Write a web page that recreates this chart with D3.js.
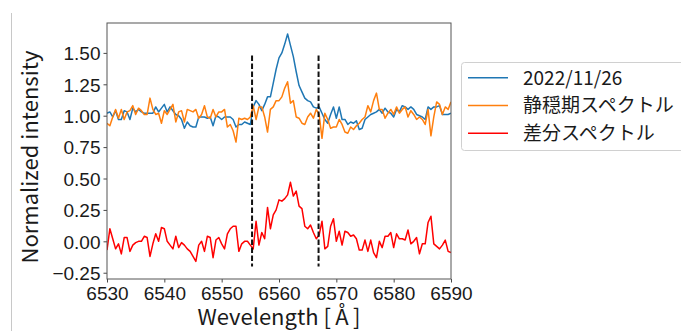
<!DOCTYPE html>
<html>
<head>
<meta charset="utf-8">
<script src="https://cdn.jsdelivr.net/npm/d3@7"></script>
<style>
  body { margin: 0; background: #fff; }
  svg { display: block; font-family: "Noto Sans CJK JP", "Noto Sans", sans-serif; }
</style>
</head>
<body>
<svg id="chart" width="681" height="331"></svg>
<script>
// wavelength grid [Å]
const wavelength = [
  6530, 6530.5, 6531, 6531.5, 6532, 6532.5, 6533, 6533.5, 6534, 6534.5,
  6535, 6535.5, 6536, 6536.5, 6537, 6537.5, 6538, 6538.5, 6539, 6539.5,
  6540, 6540.5, 6541, 6541.5, 6542, 6542.5, 6543, 6543.5, 6544, 6544.5,
  6545, 6545.5, 6546, 6546.5, 6547, 6547.5, 6548, 6548.5, 6549, 6549.5,
  6550, 6550.5, 6551, 6551.5, 6552, 6552.5, 6553, 6553.5, 6554, 6554.5,
  6555, 6555.5, 6556, 6556.5, 6557, 6557.5, 6558, 6558.5, 6559, 6559.5,
  6560, 6560.5, 6561, 6561.5, 6562, 6562.5, 6563, 6563.5, 6564, 6564.5,
  6565, 6565.5, 6566, 6566.5, 6567, 6567.5, 6568, 6568.5, 6569, 6569.5,
  6570, 6570.5, 6571, 6571.5, 6572, 6572.5, 6573, 6573.5, 6574, 6574.5,
  6575, 6575.5, 6576, 6576.5, 6577, 6577.5, 6578, 6578.5, 6579, 6579.5,
  6580, 6580.5, 6581, 6581.5, 6582, 6582.5, 6583, 6583.5, 6584, 6584.5,
  6585, 6585.5, 6586, 6586.5, 6587, 6587.5, 6588, 6588.5, 6589, 6589.5,
  6590
]

// 2022/11/26
const flareSpec = [
  1.02, 1.03, 0.99, 1.04, 0.97, 0.97, 1.04, 1.03, 0.97, 1.06,
  1.03, 1.05, 1.03, 1.02, 1.02, 1.02, 1.02, 1.07, 1.03, 1.06,
  1.09, 1.03, 1.07, 1.04, 1.01, 1.00, 0.97, 0.90, 0.95, 0.92,
  0.91, 0.91, 0.99, 0.99, 0.99, 0.98, 0.99, 0.92, 1.00, 0.99,
  0.97, 0.99, 0.99, 0.99, 0.97, 0.91, 0.93, 0.93, 0.95, 0.94,
  0.93, 1.07, 1.12, 1.09, 1.04, 1.09, 1.15, 1.15, 1.26, 1.37,
  1.46, 1.50, 1.57, 1.65, 1.56, 1.47, 1.35, 1.24, 1.19, 1.14,
  1.12, 1.11, 1.07, 1.06, 1.07, 1.02, 0.97, 0.94, 1.01, 1.07,
  0.98, 1.07, 0.97, 0.97, 0.93, 0.95, 0.94, 0.96, 0.89, 0.90,
  0.97, 0.99, 1.01, 1.02, 1.03, 1.05, 1.02, 1.06, 1.03, 1.02,
  0.99, 1.05, 1.03, 1.08, 1.07, 1.05, 1.07, 1.05, 1.01, 1.00,
  0.99, 0.97, 1.07, 1.05, 1.07, 1.07, 1.08, 1.01, 1.01, 1.01,
  1.02
]

// 静穏期スペクトル
const quietSpec = [
  0.94, 0.92, 0.99, 1.05, 0.98, 1.05, 0.97, 1.03, 1.04, 1.08,
  1.01, 1.06, 1.04, 1.01, 1.01, 1.14, 1.05, 1.01, 1.02, 0.94,
  1.04, 1.01, 1.05, 1.09, 0.95, 1.03, 1.04, 0.95, 1.05, 1.04,
  1.03, 1.05, 0.98, 1.01, 1.08, 0.99, 0.98, 1.05, 0.99, 1.03,
  1.03, 1.05, 0.91, 0.93, 0.88, 0.79, 0.98, 0.97, 0.98, 0.97,
  0.99, 1.08, 0.97, 1.07, 1.07, 0.99, 0.87, 1.05, 1.07, 1.12,
  1.12, 1.15, 1.22, 1.27, 1.10, 1.12, 0.99, 0.98, 0.94, 0.93,
  0.99, 1.02, 0.98, 1.05, 1.01, 0.82, 1.02, 0.97, 0.90, 0.91,
  0.91, 0.97, 0.93, 0.87, 0.86, 0.91, 0.89, 0.92, 0.94, 0.97,
  0.99, 1.08, 1.03, 1.12, 1.18, 1.05, 1.05, 0.98, 1.02, 1.05,
  1.01, 1.07, 1.02, 1.05, 1.07, 0.99, 1.04, 1.01, 0.97, 0.99,
  0.97, 0.93, 1.05, 0.84, 0.99, 1.11, 1.09, 1.01, 1.07, 1.05,
  1.11
]

// 差分スペクトル
const diffSpec = [
  -0.07, 0.10, 0.02, -0.06, -0.02, -0.10, 0.03, 0.03, -0.08, -0.03,
  -0.01, 0.00, 0.00, 0.04, 0.03, -0.12, -0.02, 0.06, 0.00, 0.11,
  0.10, 0.00, -0.03, -0.06, 0.04, -0.05, -0.01, -0.03, -0.06, -0.08,
  -0.12, -0.16, -0.03, 0.00, -0.08, 0.04, 0.03, -0.13, 0.01, 0.03,
  -0.02, -0.06, 0.06, 0.10, 0.12, 0.12, -0.08, -0.02, 0.00, 0.00,
  -0.03, -0.06, 0.16, -0.03, 0.07, 0.02, 0.27, 0.10, 0.21, 0.25,
  0.33, 0.32, 0.34, 0.37, 0.47, 0.36, 0.40, 0.28, 0.26, 0.12,
  0.10, 0.13, 0.07, 0.02, 0.05, 0.16, -0.06, -0.04, 0.12, 0.18,
  0.00, 0.08, -0.03, 0.08, 0.07, 0.04, 0.05, 0.02, -0.07, -0.07,
  0.01, -0.08, 0.01, -0.09, -0.13, 0.00, -0.05, 0.04, 0.04, 0.07,
  -0.05, 0.06, 0.02, 0.02, 0.01, 0.09, -0.02, 0.00, 0.03, -0.10,
  -0.02, -0.02, 0.15, 0.20, -0.02, -0.04, -0.06, -0.03, 0.01, -0.08,
  -0.09
]

const seriesNames = ["2022/11/26", "静穏期スペクトル", "差分スペクトル"]
const seriesColors = ["#1f77b4", "#ff7f0e", "#ff0000"]
const boundaryLines = [6555.3, 6566.9]   // integration range [Å]
const boundaryRange = [-0.2, 1.48]
const xTicks = [6530, 6540, 6550, 6560, 6570, 6580, 6590]
const yTicks = [-0.25, 0, 0.25, 0.5, 0.75, 1.0, 1.25, 1.5]

const svg = d3.select("#chart")
const plot = {left: 107, right: 451, top: 23, bottom: 279}

// faint page edge on the left
svg.append("line")
    .attr("x1", 11.5).attr("x2", 11.5)
    .attr("y1", 13).attr("y2", 331)
    .attr("stroke", "#c8c8c8")
    .attr("stroke-width", 1)

const x = d3.scaleLinear().domain([6530, 6590]).range([plot.left, plot.right])
const y = d3.scaleLinear().domain([-0.30, 1.738]).range([plot.bottom, plot.top])

const line = d3.line()
    .x((d, i) => x(wavelength[i]))
    .y(d => y(d))

const allSeries = [flareSpec, quietSpec, diffSpec]

// plot clip
svg.append("clipPath").attr("id", "clip")
    .append("rect")
    .attr("x", plot.left).attr("y", plot.top)
    .attr("width", plot.right - plot.left).attr("height", plot.bottom - plot.top)

const lines = svg.append("g").attr("clip-path", "url(#clip)")
allSeries.forEach((s, k) => {
    lines.append("path")
        .datum(s)
        .attr("d", line)
        .attr("fill", "none")
        .attr("stroke", seriesColors[k])
        .attr("stroke-width", 1.5)
        .attr("stroke-linejoin", "round")
})

svg.selectAll(".boundary")
    .data(boundaryLines)
    .join("line")
    .attr("class", "boundary")
    .attr("x1", d => x(d)).attr("x2", d => x(d))
    .attr("y1", y(boundaryRange[1])).attr("y2", y(boundaryRange[0]))
    .attr("stroke", "#111")
    .attr("stroke-width", 2)
    .attr("stroke-dasharray", "5.5,2.5")

// axes
const xAxis = svg.append("g")
    .attr("transform", `translate(0,${plot.bottom})`)
    .call(d3.axisBottom(x).tickValues(xTicks).tickFormat(d3.format("d")).tickSizeInner(3.5).tickSizeOuter(0).tickPadding(2))
const yAxis = svg.append("g")
    .attr("transform", `translate(${plot.left},0)`)
    .call(d3.axisLeft(y).tickValues(yTicks).tickFormat(d => d3.format(".2f")(d).replace("-", "\u2212")).tickSizeInner(3.5).tickSizeOuter(0).tickPadding(3))

;[xAxis, yAxis].forEach(g => {
    g.select(".domain").remove()
    g.selectAll(".tick line").attr("stroke", "#333").attr("stroke-width", 0.9)
    g.selectAll(".tick text").attr("fill", "#1a1a1a").style("font-size", "19px")
})
yAxis.selectAll(".tick text").attr("dy", "0.36em")
xAxis.selectAll(".tick text").attr("dy", "0.84em")

svg.append("rect")
    .attr("x", plot.left).attr("y", plot.top)
    .attr("width", plot.right - plot.left).attr("height", plot.bottom - plot.top)
    .attr("fill", "none")
    .attr("stroke", "#555")
    .attr("stroke-width", 1)

svg.append("text")
    .attr("x", (plot.left + plot.right) / 2)
    .attr("y", 325)
    .attr("text-anchor", "middle")
    .attr("fill", "#1a1a1a")
    .style("font-size", "22px")
    .text("Wevelength [\u2009Å\u2009]")

svg.append("text")
    .attr("transform", `translate(38,${(plot.top + plot.bottom) / 2 + 6}) rotate(-90)`)
    .attr("text-anchor", "middle")
    .attr("fill", "#1a1a1a")
    .style("font-size", "22px")
    .text("Normalized intensity")

// legend
const legend = svg.append("g")
legend.append("rect")
    .attr("x", 461.5).attr("y", 62.5)
    .attr("width", 240).attr("height", 88)
    .attr("rx", 3)
    .attr("fill", "#fff")
    .attr("stroke", "#d0d0d0")
    .attr("stroke-width", 1)

const rowY = [77.7, 105.5, 133.3]
seriesNames.forEach((name, k) => {
    legend.append("line")
        .attr("x1", 468).attr("x2", 508)
        .attr("y1", rowY[k]).attr("y2", rowY[k])
        .attr("stroke", seriesColors[k])
        .attr("stroke-width", 1.5)
    legend.append("text")
        .attr("x", 523).attr("y", rowY[k])
        .attr("dy", "0.36em")
        .attr("fill", "#1a1a1a")
        .style("font-size", "19px")
        .text(name)
})
</script>
</body>
</html>
